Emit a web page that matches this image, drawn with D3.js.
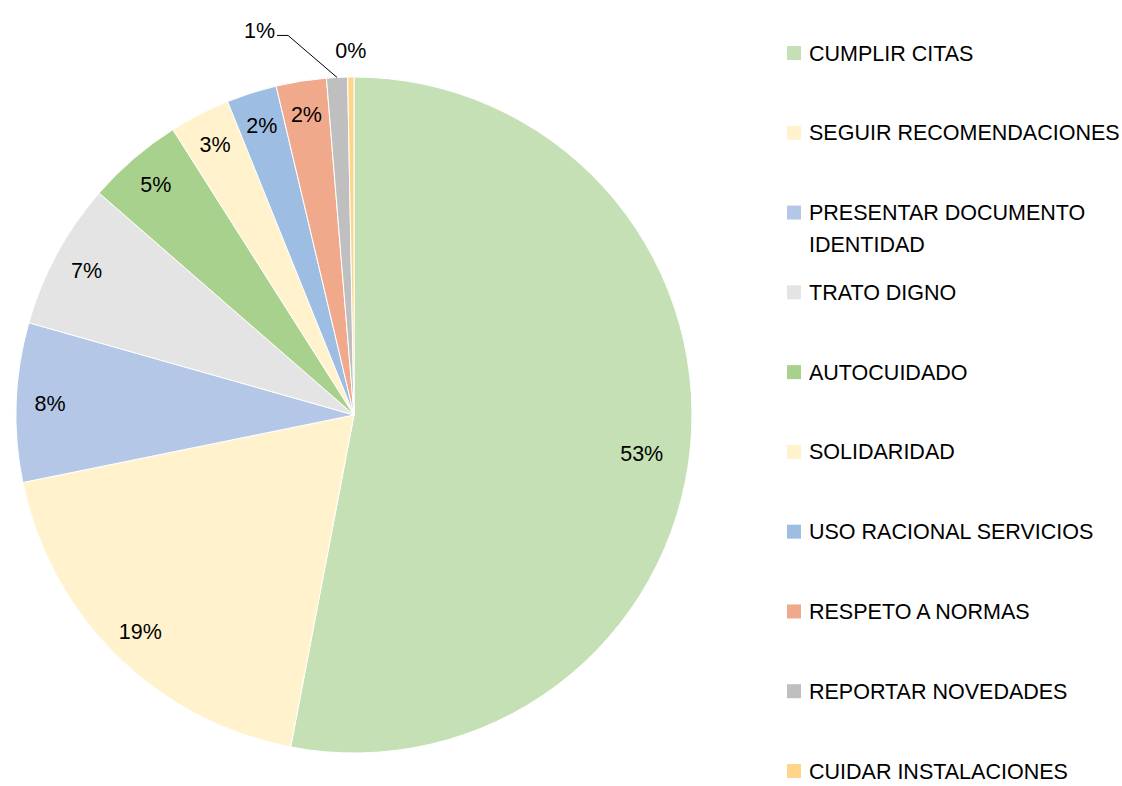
<!DOCTYPE html>
<html>
<head>
<meta charset="utf-8">
<script src="https://cdn.jsdelivr.net/npm/d3@7"></script>
<style>
  body { margin: 0; background: #fff; }
  svg { display: block; font-family: "Liberation Sans", Arial, sans-serif; }
</style>
</head>
<body>
<div id="chart"></div>
<script>
// categories, in slice order (clockwise from 12 o'clock)
const categories = [
  "CUMPLIR CITAS",
  "SEGUIR RECOMENDACIONES",
  "PRESENTAR DOCUMENTO IDENTIDAD",
  "TRATO DIGNO",
  "AUTOCUIDADO",
  "SOLIDARIDAD",
  "USO RACIONAL SERVICIOS",
  "RESPETO A NORMAS",
  "REPORTAR NOVEDADES",
  "CUIDAR INSTALACIONES"
];
// share of answers (%)
const values = [53.0, 18.8, 7.6, 7.0, 4.6, 2.9, 2.4, 2.4, 1.0, 0.3];
const colors = ["#c5e0b4", "#fff2cc", "#b4c7e7", "#e4e4e4", "#a9d18e",
                "#fff2cc", "#9dbde3", "#f1a98b", "#bfbfbf", "#ffd58a"];
// legend lines (long names wrap like in the original)
const legendLines = [
  ["CUMPLIR CITAS"],
  ["SEGUIR RECOMENDACIONES"],
  ["PRESENTAR DOCUMENTO", "IDENTIDAD"],
  ["TRATO DIGNO"],
  ["AUTOCUIDADO"],
  ["SOLIDARIDAD"],
  ["USO RACIONAL SERVICIOS"],
  ["RESPETO A NORMAS"],
  ["REPORTAR NOVEDADES"],
  ["CUIDAR INSTALACIONES"]
];

const width = 1122, height = 786;
const cx = 354, cy = 415, radius = 338;
const fontSize = 21.5;

const data = categories.map((c, i) => ({ name: c, value: values[i], color: colors[i], lines: legendLines[i] }));
const total = d3.sum(values);
const fmt = d3.format(".0%");

const svg = d3.select("#chart").append("svg")
  .attr("width", width)
  .attr("height", height);

const pie = d3.pie().sort(null).value(d => d.value);
const arcs = pie(data);

const arc = d3.arc().innerRadius(0).outerRadius(radius);
const labelArc = d3.arc().innerRadius(radius * 0.9).outerRadius(radius * 0.9);
const edgeArc = d3.arc().innerRadius(radius).outerRadius(radius);

const g = svg.append("g").attr("transform", `translate(${cx},${cy})`);

g.selectAll("path.slice")
  .data(arcs)
  .join("path")
  .attr("class", "slice")
  .attr("d", arc)
  .attr("fill", d => d.data.color)
  .attr("stroke", "#fff")
  .attr("stroke-width", 1);

// small slices (under ~1.5%) get their label outside the pie
const outside = d => (d.endAngle - d.startAngle) < 0.09;

// inside labels
g.selectAll("text.inlabel")
  .data(arcs.filter(d => !outside(d)))
  .join("text")
  .attr("class", "inlabel")
  .attr("transform", (d, i) => {
    const [x, y] = labelArc.centroid(d);
    // the big slice keeps its label a little deeper in, like excel's best fit
    return i === 0 ? `translate(${x * 0.95},${y + 10})` : `translate(${x},${y})`;
  })
  .attr("text-anchor", "middle")
  .attr("dy", "0.35em")
  .attr("font-size", fontSize)
  .attr("fill", "#000")
  .text(d => fmt(d.data.value / total));

// outside labels (1% with a leader line, 0% just above the edge)
const outs = arcs.filter(outside);
outs.forEach((d, i) => {
  const [ex, ey] = edgeArc.centroid(d);
  const txt = fmt(d.data.value / total);
  if (i === 0) {
    const elbow = [ex - 49, ey - 42];
    g.append("path")
      .attr("d", d3.line()([[ex, ey], elbow, [elbow[0] - 11, elbow[1]]]))
      .attr("fill", "none")
      .attr("stroke", "#000")
      .attr("stroke-width", 1);
    g.append("text")
      .attr("x", elbow[0] - 13)
      .attr("y", elbow[1])
      .attr("dy", "0.1em")
      .attr("text-anchor", "end")
      .attr("font-size", fontSize)
      .text(txt);
  } else {
    g.append("text")
      .attr("x", ex)
      .attr("y", ey - 27)
      .attr("dy", "0.35em")
      .attr("text-anchor", "middle")
      .attr("font-size", fontSize)
      .text(txt);
  }
});

// legend
const ly = d3.scalePoint().domain(categories).range([53, 771]);
const legend = svg.append("g")
  .selectAll("g")
  .data(data)
  .join("g")
  .attr("transform", d => `translate(787,${ly(d.name)})`);

legend.append("rect")
  .attr("x", 0)
  .attr("y", -7)
  .attr("width", 14)
  .attr("height", 14)
  .attr("fill", d => d.color);

legend.append("text")
  .attr("x", 22)
  .attr("font-size", fontSize)
  .attr("fill", "#000")
  .selectAll("tspan")
  .data(d => d.lines)
  .join("tspan")
  .attr("x", 22)
  .attr("y", (d, i) => i * 32)
  .attr("dy", "0.35em")
  .text(d => d);
</script>
</body>
</html>
